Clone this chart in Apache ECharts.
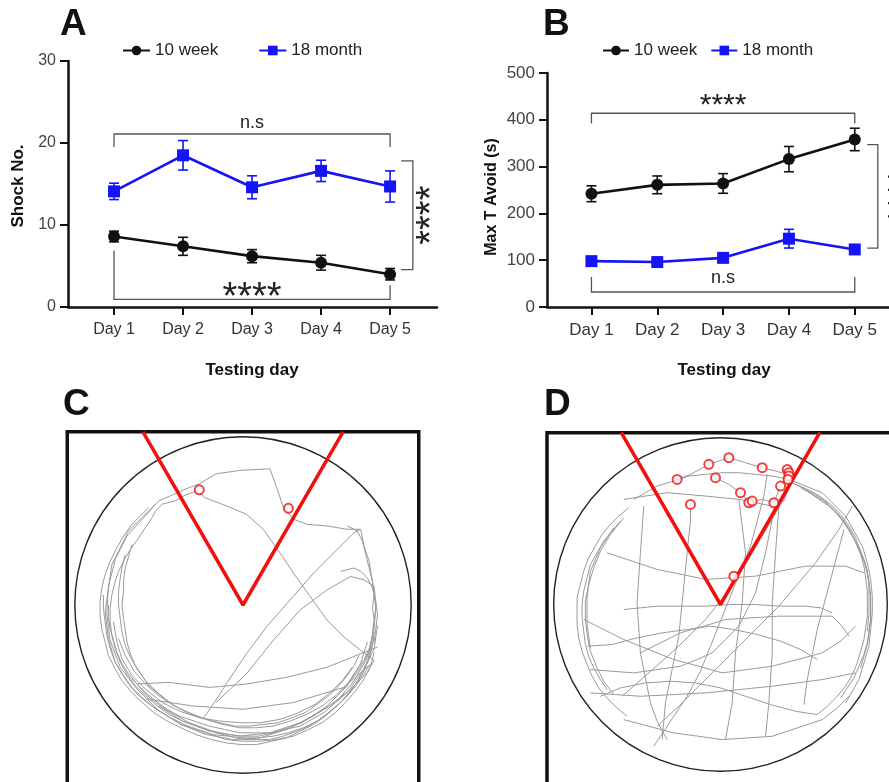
<!DOCTYPE html>
<html>
<head>
<meta charset="utf-8">
<script src="https://cdn.jsdelivr.net/npm/echarts@6/dist/echarts.min.js"></script>
<style>
html, body { margin: 0; padding: 0; background: #fff; }
#main { width: 889px; height: 782px; }
</style>
</head>
<body>
<div id="main"></div>
<script>
// ---- data ----
var days = [1, 2, 3, 4, 5];

// A: shock number (mean, sem)
var shockYoung = [8.6, 7.4, 6.2, 5.4, 4.0];
var shockYoungErr = [0.65, 1.1, 0.8, 0.9, 0.7];
var shockOld = [14.1, 18.5, 14.6, 16.6, 14.7];
var shockOldErr = [1.0, 1.8, 1.4, 1.3, 1.9];

// B: max time avoiding (s)
var avoidYoung = [242, 261, 264, 316, 358];
var avoidYoungErr = [17, 19, 21, 27, 24];
var avoidOld = [98, 96, 105, 146, 123];
var avoidOldErr = [5, 5, 7, 20, 8];

// C / D: example tracks, arena units (radius = 100, centre = 0,0)
var trackC = [
  [[-50,62],[-43,65],[-34,69],[-26,72],[-16,78],[-2,80],[16,81],[20,70],[24,58],[30,51],[38,48],[50,47],[62,45],[70,45],[72,35],[75,26],[76,20],[78,7],[77,-2],[78,-9],[76,-25],[73,-33],[66,-45],[56,-57],[42,-66],[26,-74],[10,-79],[-6,-80],[-22,-77],[-37,-71],[-51,-62],[-63,-50],[-73,-37],[-79,-21],[-81,-5],[-80,11],[-76,27],[-69,41],[-59,52],[-50,62]],
  [[-26,68],[-23,64],[-10,59],[2,54],[12,45],[22,31],[30,19],[40,5],[50,-9],[60,-19],[70,-27],[78,-33],[74,-40],[64,-50],[50,-61],[34,-70],[16,-76],[-2,-78],[-20,-75],[-36,-69],[-50,-60]],
  [[-24,-68],[-17,-58],[-10,-47],[2,-29],[14,-13],[28,3],[42,19],[56,33],[66,43],[70,45]],
  [[-16,-58],[2,-41],[18,-21],[34,-3],[50,9],[64,17],[72,15],[78,11],[79,0],[78,-14],[75,-28],[68,-40],[58,-52]],
  [[-63,-47],[-44,-46],[-20,-49],[2,-47],[26,-43],[50,-37],[70,-29],[80,-25]],
  [[-57,-56],[-30,-60],[0,-62],[30,-58],[60,-49],[76,-35]],
  [[-56,58],[-62,52],[-66,48],[-71,41],[-75,34],[-79,26],[-82,18],[-84,10],[-85,2],[-85,-6],[-84,-14],[-82,-22],[-80,-30],[-76,-38],[-72,-45],[-66,-52],[-60,-58],[-53,-64],[-45,-69],[-37,-73],[-28,-77],[-19,-80],[-10,-82],[-1,-83],[8,-83],[17,-81],[26,-79],[34,-75],[42,-71],[49,-66],[56,-60],[62,-54],[67,-47],[71,-40],[74,-33],[76,-27],[78,-20]],
  [[-62,40],[-67,33],[-70,28],[-74,20],[-76,14],[-78,6],[-79,-2],[-79,-10],[-78,-18],[-76,-26],[-73,-34],[-69,-41],[-64,-48],[-58,-54],[-51,-60],[-44,-65],[-36,-69],[-27,-72],[-18,-75],[-9,-77],[0,-78],[9,-78],[18,-76],[27,-73],[35,-70],[43,-65],[50,-60],[56,-54],[62,-48],[66,-41],[70,-35],[72,-28],[74,-22]],
  [[-70,30],[-72,22],[-73,16],[-74,8],[-74,0],[-73,-8],[-72,-16],[-70,-24],[-67,-31],[-63,-38],[-58,-45],[-52,-51],[-46,-56],[-39,-61],[-31,-65],[-22,-68],[-14,-70],[-5,-72],[4,-72],[12,-71],[21,-70],[29,-67],[37,-64],[44,-59],[51,-54],[57,-48],[62,-42],[66,-36],[69,-30]],
  [[-52,60],[-57,55],[-60,52],[-65,47],[-68,44],[-70,40],[-72,36],[-75,30],[-78,24],[-79,17],[-80,10],[-81,3],[-82,-4],[-81,-12],[-80,-20],[-78,-27],[-76,-34],[-72,-41],[-68,-47],[-63,-53],[-57,-58],[-50,-63],[-43,-67],[-35,-71],[-27,-74],[-18,-77],[-9,-78],[0,-79],[9,-79],[18,-78],[27,-76],[36,-73],[44,-69],[51,-64],[58,-58],[63,-52],[68,-46],[72,-39],[75,-32],[77,-24],[78,-16]],
  [[-66,-44],[-59,-51],[-52,-57],[-45,-62],[-38,-66],[-29,-69],[-20,-72],[-11,-74],[-2,-76],[7,-76],[16,-76],[25,-74],[34,-72],[41,-68],[48,-64],[55,-58],[62,-52],[67,-45],[72,-38],[75,-32],[78,-26],[79,-19],[80,-12]],
  [[-80,0],[-80,-7],[-79,-14],[-77,-21],[-75,-28],[-72,-35],[-68,-41],[-63,-47],[-58,-53],[-52,-58],[-46,-62],[-39,-66],[-32,-70],[-24,-73],[-16,-76],[-8,-78],[0,-80],[8,-80],[16,-80],[24,-78],[32,-75],[39,-72],[46,-68],[52,-63],[58,-58],[63,-53],[68,-47],[72,-41],[75,-36]],
  [[-66,36],[-68,29],[-70,22],[-71,15],[-71,8],[-72,0],[-71,-8],[-70,-15],[-69,-22],[-67,-29],[-64,-36],[-60,-42],[-56,-48],[-50,-53],[-44,-58]],
  [[-62,40],[-58,46],[-54,52],[-52,56],[-48,60],[-44,61],[-40,62],[-35,65],[-30,67],[-26,68]],
  [[62,47],[68,44],[71,38],[73,30],[75,22],[77,14],[78,6],[79,-2],[78,-10],[77,-18],[75,-26],[72,-33]],
  [[58,20],[66,22],[70,20],[74,16],[77,10],[79,2],[80,-6],[79,-14],[78,-22]],
  [[-74,-20],[-70,-30],[-65,-39],[-58,-47],[-50,-54],[-41,-60],[-32,-64],[-22,-68],[-12,-71],[-2,-73],[8,-73],[18,-72],[28,-69],[38,-65],[47,-60],[55,-54],[62,-47],[67,-40],[71,-33]],
  [[-83,6],[-83,-2],[-82,-10],[-81,-18],[-79,-26],[-76,-34],[-71,-42],[-66,-49],[-60,-55],[-53,-61],[-45,-66],[-37,-71],[-28,-74],[-19,-77],[-10,-80],[0,-81],[10,-81],[20,-80],[30,-78],[39,-74],[47,-70],[55,-64],[61,-58],[67,-51],[72,-44],[76,-36],[78,-28]],
  [[-77,-10],[-75,-22],[-72,-32],[-66,-42],[-58,-50],[-48,-58],[-38,-63],[-26,-67],[-14,-69],[-2,-70],[10,-70],[22,-68],[33,-64],[43,-59],[52,-52],[59,-45],[65,-37]]
];
var trackD = [
  [[-52,63],[-45,67],[-38,71],[-28,74],[-19,77],[-9,78],[1,79],[11,79],[21,78],[31,77],[41,75],[51,71],[61,67],[68,60],[75,53],[80,44],[85,35],[88,25],[90,15],[91,5],[91,-5],[90,-15],[89,-25],[86,-35],[83,-45],[79,-52],[75,-59]],
  [[48,70],[55,66],[62,62],[67,57],[72,52],[76,46],[80,40],[83,33],[86,26],[88,19],[89,12],[90,5],[90,-2],[90,-9],[89,-16],[88,-23],[86,-30],[83,-37],[80,-44],[76,-50],[72,-56]],
  [[52,68],[59,63],[65,59],[70,54],[75,48],[79,41],[83,34],[86,27],[88,20],[89,12],[90,5],[90,-3],[90,-10],[89,-17],[88,-24],[86,-31],[84,-38]],
  [[45,72],[53,68],[60,64],[65,60],[70,55],[74,50],[78,44],[81,37],[84,30],[86,23],[87,16],[88,8],[88,0],[88,-7],[87,-14],[86,-21],[84,-28],[82,-35],[79,-42],[75,-49],[70,-55],[64,-61],[58,-66]],
  [[40,74],[50,70],[58,66],[66,60],[72,54],[77,47],[81,40],[84,32],[87,24],[89,14],[89,4],[89,-6],[88,-16]],
  [[-55,58],[-61,53],[-66,48],[-71,42],[-75,35],[-79,28],[-82,20],[-84,12],[-86,4],[-86,-4],[-86,-12],[-85,-20],[-83,-28],[-80,-36],[-77,-43],[-73,-50],[-68,-56],[-62,-62],[-56,-67]],
  [[-60,50],[-65,44],[-70,38],[-74,31],[-78,24],[-80,16],[-82,8],[-83,0],[-83,-8],[-82,-16],[-81,-24],[-79,-31],[-76,-38],[-72,-45],[-68,-51]],
  [[-64,46],[-68,40],[-72,34],[-75,27],[-78,20],[-79,12],[-80,4],[-80,-4],[-80,-12],[-79,-19],[-78,-26]],
  [[-58,52],[-66,42],[-72,32],[-76,22],[-79,12],[-81,2],[-81,-8],[-80,-18],[-78,-28],[-74,-38],[-70,-46],[-64,-54]],
  [[-58,63],[-45,65],[-32,67],[-20,66],[-9,65],[1,64],[11,63],[21,61],[31,59],[38,62],[41,70]],
  [[-18,60],[-18,50],[-19,41],[-20,31],[-21,21],[-22,11],[-23,1],[-24,-9],[-25,-19],[-27,-29],[-29,-39],[-31,-49],[-33,-59],[-34,-70],[-35,-81]],
  [[43,73],[37,62],[31,51],[25,41],[19,31],[13,21],[7,11],[-1,1],[-9,-9],[-17,-17],[-25,-25],[-34,-33],[-43,-41],[-51,-48],[-59,-55]],
  [[-58,-3],[-48,-2],[-38,-1],[-23,-1],[-9,-1],[6,0],[21,0],[36,-1],[51,-1],[60,-2],[67,-5]],
  [[-78,-53],[-63,-54],[-48,-55],[-28,-54],[-9,-53],[11,-51],[31,-49],[46,-47],[61,-45],[71,-43],[81,-41]],
  [[-48,-29],[-36,-23],[-24,-17],[-10,-13],[3,-9],[19,-8],[35,-7],[51,-7],[67,-7],[72,-12],[77,-19]],
  [[35,59],[34,45],[33,31],[32,16],[31,1],[31,-14],[31,-29],[30,-44],[29,-59],[28,-69],[27,-79]],
  [[11,63],[13,47],[15,31],[14,16],[13,1],[11,-14],[9,-29],[8,-44],[7,-59],[5,-70],[3,-81]],
  [[-46,59],[-47,45],[-48,31],[-49,16],[-50,1],[-49,-14],[-48,-29],[-45,-44],[-42,-59],[-38,-70],[-32,-81]],
  [[-68,31],[-53,26],[-38,21],[-23,18],[-9,15],[6,16],[21,17],[36,20],[51,23],[63,23],[75,23],[86,19]],
  [[-82,-9],[-70,-15],[-58,-21],[-43,-27],[-28,-33],[-13,-37],[1,-41],[16,-39],[31,-37],[46,-33],[61,-29],[72,-22],[81,-13]],
  [[-38,-73],[-25,-61],[-13,-49],[-1,-37],[11,-25],[23,-13],[35,-1],[46,12],[57,25],[64,35],[71,45],[79,59]],
  [[-78,-39],[-65,-40],[-52,-41],[-38,-39],[-24,-37],[-14,-33],[-5,-29],[3,-21],[11,-13],[16,-3],[21,7],[24,19],[27,31],[29,41],[31,51]],
  [[-58,-69],[-43,-73],[-28,-77],[-13,-79],[1,-81],[16,-80],[31,-79],[46,-74],[61,-69],[70,-62],[77,-55]],
  [[-26,75],[-18,78],[-7,84],[5,88],[15,85],[25,82],[33,80],[40,78]],
  [[-3,76],[5,72],[12,67],[17,61],[19,62],[25,63],[32,61],[36,71],[40,76]],
  [[-80,-25],[-65,-24],[-50,-20],[-35,-17],[-20,-15],[-6,-13],[8,-15],[22,-18],[36,-22],[48,-27],[58,-33]],
  [[-40,-85],[-30,-70],[-20,-55],[-12,-40],[-6,-25],[0,-10],[6,5],[12,20],[18,35],[22,50],[26,65],[28,78]],
  [[50,-60],[52,-45],[55,-30],[58,-15],[62,0],[66,15],[70,30],[74,45]],
  [[-72,-55],[-60,-50],[-45,-47],[-30,-46],[-15,-47],[0,-50],[15,-55],[30,-60],[45,-64],[58,-66]]
];
var shocksC = [[-26,68.5],[27,57.5]];
var shocksD = [[5,88],[-7,84],[25,82],[-26,75],[-3,76],[40,81],[41,79],[41,77],[40.5,75],[36,71],[12,67],[-18,60],[17,61],[19,62],[32,61],[8,17]];
var zoneEdge = [[-59.5,103],[0,0],[59.5,103]];

// significance brackets (data coords)
var notesA = [
  {path: [[1,19.5],[1,21.1],[5,21.1],[5,19.5]], text: 'n.s', at: [3,22.4], size: 18, rot: false, star: false},
  {path: [[1,6.9],[1,0.94],[5,0.94],[5,2.65]], text: '****', at: [3,2.1], size: 38, rot: false, star: true},
  {path: [[5.16,17.83],[5.33,17.83],[5.33,4.57],[5.16,4.57]], text: '****', at: [5.5,11.2], size: 38, rot: true, star: true}
];
var notesB = [
  {path: [[1,392],[1,414],[5,414],[5,392]], text: '****', at: [3,444], size: 30, rot: false, star: true},
  {path: [[1,64],[1,32],[5,32],[5,64]], text: 'n.s', at: [3,62], size: 18, rot: false, star: false},
  {path: [[5.19,347],[5.35,347],[5.35,126],[5.19,126]], text: '****', at: [5.6,236], size: 34, rot: true, star: true}
];

var BLACK = '#111';
var BLUE = '#1414f5';
var RED = '#f01010';
var FONT = '"Liberation Sans", Arial, sans-serif';

function pairs(ys) {
  return days.map(function (d, i) { return [d, ys[i]]; });
}
function spans(ys, es) {
  return days.map(function (d, i) { return [d, ys[i] - es[i], ys[i] + es[i]]; });
}

function errorBars(color, grid, ys, es) {
  return {
    type: 'custom', xAxisIndex: grid, yAxisIndex: grid, silent: true,
    encode: {x: 0, y: [1, 2]},
    data: spans(ys, es),
    renderItem: function (params, api) {
      var hi = api.coord([api.value(0), api.value(2)]);
      var lo = api.coord([api.value(0), api.value(1)]);
      var w = 5;
      var st = {stroke: color, lineWidth: 1.6};
      return {type: 'group', children: [
        {type: 'line', shape: {x1: hi[0], y1: hi[1], x2: lo[0], y2: lo[1]}, style: st},
        {type: 'line', shape: {x1: hi[0] - w, y1: hi[1], x2: hi[0] + w, y2: hi[1]}, style: st},
        {type: 'line', shape: {x1: lo[0] - w, y1: lo[1], x2: lo[0] + w, y2: lo[1]}, style: st}
      ]};
    }
  };
}

function meanLine(name, color, symbol, grid, ys) {
  return {
    name: name, type: 'line', xAxisIndex: grid, yAxisIndex: grid,
    data: pairs(ys), symbol: symbol, symbolSize: 12, showSymbol: true,
    lineStyle: {color: color, width: 2.6}, itemStyle: {color: color},
    z: 3
  };
}

function notes(list, grid) {
  return {
    type: 'custom', xAxisIndex: grid, yAxisIndex: grid, silent: true, clip: false,
    data: list.map(function (n) { return n.at; }),
    renderItem: function (params, api) {
      var n = list[params.dataIndex];
      var pts = n.path.map(function (p) { return api.coord(p); });
      var t = api.coord(n.at);
      return {type: 'group', children: [
        {type: 'polyline', shape: {points: pts}, style: {stroke: '#555', lineWidth: 1.3, fill: null}},
        {type: 'text', x: t[0], y: t[1], rotation: n.rot ? Math.PI / 2 : 0,
          style: {text: n.text, x: 0, y: n.star ? n.size * 0.22 : 0, fill: '#222',
            font: n.size + 'px ' + FONT, align: 'center', verticalAlign: 'middle'}}
      ]};
    }
  };
}

function arena(grid, box) {
  return {
    type: 'custom', xAxisIndex: grid, yAxisIndex: grid, silent: true, clip: false,
    data: [[0, 0]],
    renderItem: function (params, api) {
      var c = api.coord([0, 0]);
      var r = api.size([100, 0])[0];
      var tl = api.coord([box[0], box[2]]);
      var br = api.coord([box[1], box[3]]);
      return {type: 'group', children: [
        {type: 'circle', shape: {cx: c[0], cy: c[1], r: r}, style: {stroke: '#222', lineWidth: 1.4, fill: null}},
        {type: 'rect', shape: {x: tl[0], y: tl[1], width: br[0] - tl[0], height: br[1] - tl[1]},
          style: {stroke: '#111', lineWidth: 3.5, fill: null}}
      ]};
    },
    z: 4
  };
}

function dayAxis(grid, min, max, size) {
  return {
    type: 'value', gridIndex: grid, min: min, max: max,
    splitLine: {show: false},
    axisLine: {show: true, lineStyle: {color: BLACK, width: 2.5}},
    axisTick: {show: true, customValues: days, length: 8, lineStyle: {color: BLACK, width: 2}},
    axisLabel: {customValues: days, formatter: function (v) { return 'Day ' + v; },
      color: '#333', fontSize: size, fontFamily: FONT, margin: 15}
  };
}
function valueAxis(grid, max, step, size) {
  return {
    type: 'value', gridIndex: grid, min: 0, max: max, interval: step,
    splitLine: {show: false},
    axisLine: {show: true, lineStyle: {color: BLACK, width: 2.5}},
    axisTick: {show: true, length: 8, lineStyle: {color: BLACK, width: 2}},
    axisLabel: {color: '#444', fontSize: size, fontFamily: FONT, margin: 12}
  };
}
function hiddenAxis(grid) {
  return {type: 'value', gridIndex: grid, min: -110, max: 110, show: false, splitLine: {show: false}};
}

var series = [
  errorBars(BLACK, 0, shockYoung, shockYoungErr),
  errorBars(BLUE, 0, shockOld, shockOldErr),
  meanLine('10 week', BLACK, 'circle', 0, shockYoung),
  meanLine('18 month', BLUE, 'rect', 0, shockOld),
  notes(notesA, 0),
  errorBars(BLACK, 1, avoidYoung, avoidYoungErr),
  errorBars(BLUE, 1, avoidOld, avoidOldErr),
  meanLine('10 week', BLACK, 'circle', 1, avoidYoung),
  meanLine('18 month', BLUE, 'rect', 1, avoidOld),
  notes(notesB, 1)
];

function addTracks(list, grid) {
  list.forEach(function (p) {
    series.push({type: 'line', xAxisIndex: grid, yAxisIndex: grid, data: p, showSymbol: false,
      silent: true, lineStyle: {color: '#9a9a9a', width: 1}, z: 1});
  });
}
addTracks(trackC, 2);
addTracks(trackD, 3);
[2, 3].forEach(function (g) {
  series.push({type: 'line', xAxisIndex: g, yAxisIndex: g, data: zoneEdge, showSymbol: false,
    silent: true, lineStyle: {color: RED, width: 3.5}, z: 5});
});
series.push(arena(2, [-104.5, 104.5, 103, -110]));
series.push(arena(3, [-104, 112, 103, -110]));
series.push({type: 'scatter', xAxisIndex: 2, yAxisIndex: 2, data: shocksC, symbol: 'emptyCircle',
  symbolSize: 9, itemStyle: {color: RED, borderColor: RED, borderWidth: 2.2}, z: 6});
series.push({type: 'scatter', xAxisIndex: 3, yAxisIndex: 3, data: shocksD, symbol: 'emptyCircle',
  symbolSize: 9, itemStyle: {color: RED, borderColor: RED, borderWidth: 2.2}, z: 6});

var legendText = {color: '#222', fontSize: 17, fontFamily: FONT};
var titleFont = 'bold 17px ' + FONT;
var letterFont = 'bold 37px ' + FONT;

var chart = echarts.init(document.getElementById('main'));
chart.setOption({
  animation: false,
  backgroundColor: '#fff',
  legend: [
    {left: 117, top: 37, itemGap: 40, itemWidth: 27, itemHeight: 12, data: ['10 week', '18 month'], textStyle: legendText},
    {left: 597, top: 37, itemGap: 13, itemWidth: 26, itemHeight: 12, data: ['10 week', '18 month'], textStyle: legendText}
  ],
  grid: [
    {left: 68, top: 61, width: 369, height: 246, outerBoundsMode: 'none'},
    {left: 547, top: 73, width: 342, height: 234, outerBoundsMode: 'none'},
    {left: 58, top: 420, width: 370, height: 370, outerBoundsMode: 'none'},
    {left: 537, top: 421, width: 367, height: 367, outerBoundsMode: 'none'}
  ],
  xAxis: [dayAxis(0, 0.333, 5.68, 16), dayAxis(1, 0.325, 5.52, 17), hiddenAxis(2), hiddenAxis(3)],
  yAxis: [valueAxis(0, 30, 10, 16), valueAxis(1, 500, 100, 17), hiddenAxis(2), hiddenAxis(3)],
  graphic: [
    {type: 'text', left: 60, top: 6, style: {text: 'A', font: letterFont, fill: '#111'}},
    {type: 'text', left: 543, top: 6, style: {text: 'B', font: letterFont, fill: '#111'}},
    {type: 'text', left: 63, top: 386, style: {text: 'C', font: letterFont, fill: '#111'}},
    {type: 'text', left: 544, top: 386, style: {text: 'D', font: letterFont, fill: '#111'}},
    {type: 'text', x: 18, y: 186, rotation: Math.PI / 2,
      style: {text: 'Shock No.', font: titleFont, fill: '#111', align: 'center', verticalAlign: 'middle'}},
    {type: 'text', x: 492, y: 197, rotation: Math.PI / 2,
      style: {text: 'Max T Avoid (s)', font: 'bold 16px ' + FONT, fill: '#111', align: 'center', verticalAlign: 'middle'}},
    {type: 'text', x: 252, y: 370,
      style: {text: 'Testing day', font: titleFont, fill: '#111', align: 'center', verticalAlign: 'middle'}},
    {type: 'text', x: 724, y: 370,
      style: {text: 'Testing day', font: titleFont, fill: '#111', align: 'center', verticalAlign: 'middle'}}
  ],
  series: series
});
</script>
</body>
</html>
